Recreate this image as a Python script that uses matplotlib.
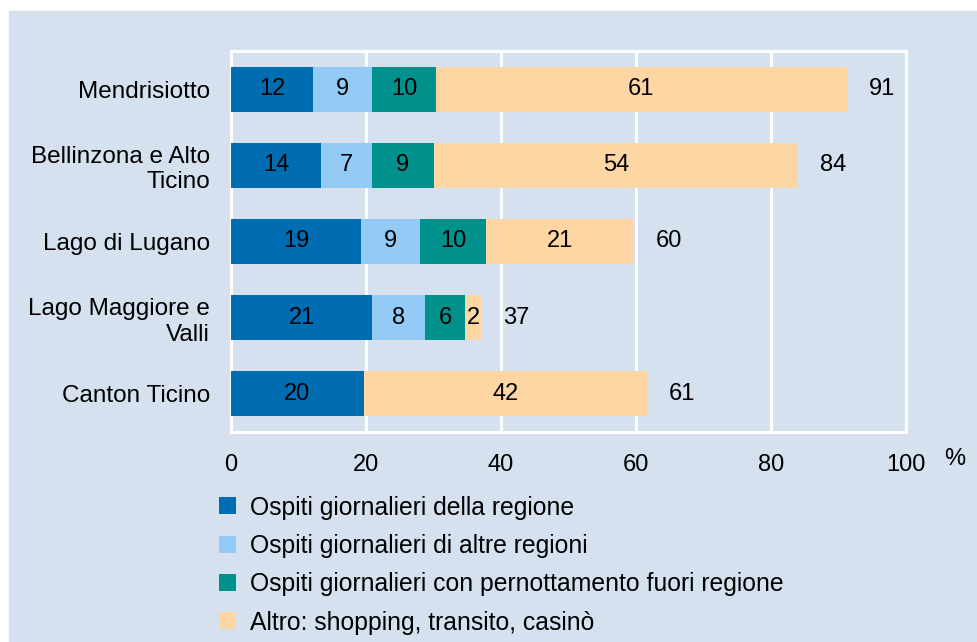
import matplotlib

matplotlib.use("Agg")
import matplotlib.pyplot as plt  # noqa: E402
from matplotlib.patches import Patch, Rectangle  # noqa: E402

regions = [
    "Mendrisiotto",
    "Bellinzona e Alto\nTicino",
    "Lago di Lugano",
    "Lago Maggiore e\nValli",
    "Canton Ticino",
]
series_names = [
    "Ospiti giornalieri della regione",
    "Ospiti giornalieri di altre regioni",
    "Ospiti giornalieri con pernottamento fuori regione",
    "Altro: shopping, transito, casinò",
]
# segment lengths (%)
della_regione = [12.2, 13.3, 19.3, 20.9, 19.7]
altre_regioni = [8.7, 7.6, 8.7, 7.9, 0.0]
pernottamento = [9.5, 9.1, 9.8, 5.9, 0.0]
altro = [60.8, 54.0, 21.8, 2.3, 41.9]
# printed labels
lab_della = ["12", "14", "19", "21", "20"]
lab_altre = ["9", "7", "9", "8", ""]
lab_pern = ["10", "9", "10", "6", ""]
lab_altro = ["61", "54", "21", "2", "42"]
totals = ["91", "84", "60", "37", "61"]
xticks = [0, 20, 40, 60, 80, 100]

colors = ["#006db3", "#93caf6", "#00918d", "#fed6a4"]
BG = "#d5e1ef"

plt.rcParams.update({"font.family": ["Liberation Sans", "DejaVu Sans"], "font.size": 17.5})

fig = plt.figure(figsize=(9.77, 6.42), dpi=100, facecolor="white")
fig.patches.append(
    Rectangle((9 / 977, 0), 1, 1 - 11 / 642, transform=fig.transFigure, color=BG, zorder=-10)
)
ax = fig.add_axes([231 / 977, 1 - 432 / 642, 675 / 977, 381 / 642])
ax.set_facecolor(BG)

ypos = list(range(len(regions)))
left = [0.0] * len(regions)
for vals, labs, col in zip(
    [della_regione, altre_regioni, pernottamento, altro],
    [lab_della, lab_altre, lab_pern, lab_altro],
    colors,
    strict=True,
):
    bars = ax.barh(ypos, vals, left=left, height=0.59, color=col, zorder=3)
    ax.bar_label(bars, labels=labs, label_type="center", fontsize=17, color="black")
    left = [a + b for a, b in zip(left, vals, strict=True)]

for y, end, t in zip(ypos, left, totals, strict=True):
    ax.annotate(t, xy=(end, y), xytext=(16, 0), textcoords="offset points",
                ha="left", va="center", fontsize=17)

ax.set_xlim(0, 100)
ax.set_ylim(4.5, -0.5)
ax.set_xticks(xticks)
ax.set_yticks(ypos, regions)
ax.tick_params(axis="both", length=0)
ax.tick_params(axis="x", pad=16, labelsize=17)
ax.tick_params(axis="y", pad=15)
ax.grid(axis="x", color="white", lw=2.2, zorder=1)
for s in ax.spines.values():
    s.set_color("white")
    s.set_linewidth(2.2)

fig.text(955 / 977, 1 - 459 / 642, "%", ha="center", va="center", fontsize=17)

handles = [Patch(facecolor=c, edgecolor="none") for c in colors]
fig.legend(
    handles,
    series_names,
    loc="upper left",
    bbox_to_anchor=(219 / 977, 1 - 495.5 / 642),
    frameon=False,
    borderpad=0,
    borderaxespad=0,
    handlelength=0.69,
    handleheight=0.69,
    handletextpad=0.56,
    labelspacing=0.58,
    fontsize=17.8,
)

fig.savefig("out.png", dpi=100, facecolor=fig.get_facecolor())
